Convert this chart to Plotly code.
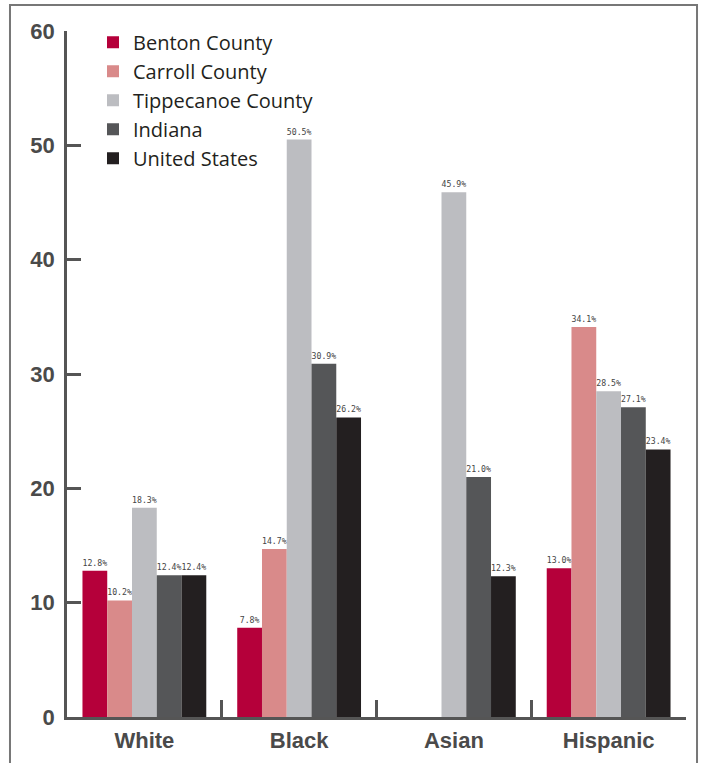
import plotly.graph_objects as go

categories = ["White", "Black", "Asian", "Hispanic"]
series_names = ["Benton County", "Carroll County", "Tippecanoe County", "Indiana", "United States"]
benton = [12.8, 7.8, None, 13.0]
carroll = [10.2, 14.7, None, 34.1]
tippecanoe = [18.3, 50.5, 45.9, 28.5]
indiana = [12.4, 30.9, 21.0, 27.1]
united_states = [12.4, 26.2, 12.3, 23.4]
colors = ["#B5003A", "#D98A8A", "#BCBDC1", "#555658", "#231F20"]
y_ticks = [0, 10, 20, 30, 40, 50, 60]

series = [benton, carroll, tippecanoe, indiana, united_states]

fig = go.Figure()
for name, vals, col in zip(series_names, series, colors):
    fig.add_trace(go.Bar(
        name=name, x=categories, y=vals,
        marker=dict(color=col, line=dict(width=0)),
        text=[("" if v is None else f"{v:.1f}%") for v in vals],
        textposition="outside",
        constraintext="none",
        cliponaxis=False,
        textfont=dict(family="DejaVu Sans Mono", size=8.2, color="#444444"),
    ))

axis_col = "#555555"
fig.update_layout(
    width=704, height=763,
    margin=dict(l=67, r=18, t=31, b=46),
    paper_bgcolor="white", plot_bgcolor="white",
    barmode="group", bargap=0.2, bargroupgap=0,
    showlegend=True,
    legend=dict(
        x=0.042, y=1.012, xanchor="left", yanchor="top",
        font=dict(family="Open Sans", size=20, color="#231F20"),
        bgcolor="rgba(0,0,0,0)", tracegroupgap=0, itemwidth=30,
    ),
    xaxis=dict(
        automargin=False,
        showline=True, linecolor=axis_col, linewidth=2.5,
        ticks="inside", tickson="boundaries", ticklen=17, tickwidth=2.5, tickcolor=axis_col,
        tickfont=dict(family="Liberation Sans", size=22, color="#4a4a4a", weight="bold"),
        ticklabelstandoff=2,
        showgrid=False, zeroline=False,
    ),
    yaxis=dict(
        automargin=False,
        range=[0, 60], tickvals=y_ticks,
        showline=True, linecolor=axis_col, linewidth=2.5,
        ticks="inside", ticklen=14, tickwidth=2.5, tickcolor=axis_col,
        tickfont=dict(family="Liberation Sans", size=22, color="#4a4a4a", weight="bold"),
        ticklabelstandoff=5,
        showgrid=False, zeroline=False,
    ),
)

fig.add_shape(type="rect", xref="paper", yref="paper",
              x0=-0.0921, x1=1.0178, y0=-0.2, y1=1.0379,
              line=dict(color="#777777", width=2), fillcolor="rgba(0,0,0,0)", layer="below")

fig.write_html("out.html")
